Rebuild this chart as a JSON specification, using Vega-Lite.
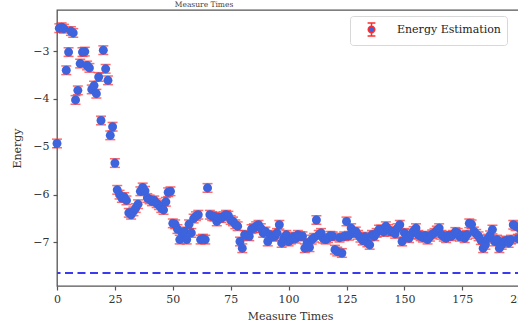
{
  "$schema": "https://vega.github.io/schema/vega-lite/v6.json",
  "width": 466,
  "height": 276,
  "autosize": {"type": "none"},
  "padding": {"left": 57, "top": 10, "right": -5, "bottom": 37},
  "background": "white",
  "title": {"text": "Measure Times", "anchor": "start", "dx": 163, "offset": 2, "fontSize": 7.5, "font": "DejaVu Serif", "fontWeight": "normal", "color": "#444"},
  "config": {
    "font": "DejaVu Serif",
    "view": {"stroke": "#555", "strokeWidth": 1.3},
    "axis": {"labelFont": "DejaVu Serif", "titleFont": "DejaVu Serif", "labelFontSize": 11, "titleFontSize": 11, "labelColor": "#333", "titleColor": "#333", "titleFontWeight": "normal", "grid": false, "domain": false, "tickColor": "#555", "tickSize": 4, "tickWidth": 1.2}
  },
  "datasets": {
    "est": [
      {"t":0,"e":-4.93,"s":0.09},{"t":1,"e":-2.52,"s":0.09},{"t":2,"e":-2.5,"s":0.09},{"t":3,"e":-2.53,"s":0.09},{"t":4,"e":-3.4,"s":0.09},{"t":5,"e":-3.02,"s":0.09},{"t":6,"e":-2.58,"s":0.09},{"t":7,"e":-2.62,"s":0.09},{"t":8,"e":-4.02,"s":0.09},{"t":9,"e":-3.82,"s":0.09},
      {"t":10,"e":-3.26,"s":0.09},{"t":11,"e":-3.02,"s":0.09},{"t":12,"e":-3.01,"s":0.09},{"t":13,"e":-3.3,"s":0.09},{"t":14,"e":-3.35,"s":0.09},{"t":15,"e":-3.8,"s":0.09},{"t":16,"e":-3.72,"s":0.09},{"t":17,"e":-3.89,"s":0.09},{"t":18,"e":-3.54,"s":0.09},{"t":19,"e":-4.45,"s":0.09},
      {"t":20,"e":-2.98,"s":0.09},{"t":21,"e":-3.37,"s":0.09},{"t":22,"e":-3.61,"s":0.09},{"t":23,"e":-4.76,"s":0.09},{"t":24,"e":-4.58,"s":0.09},{"t":25,"e":-5.34,"s":0.09},{"t":26,"e":-5.9,"s":0.09},{"t":27,"e":-6.0,"s":0.09},{"t":28,"e":-6.07,"s":0.09},{"t":29,"e":-6.05,"s":0.09},
      {"t":30,"e":-6.12,"s":0.09},{"t":31,"e":-6.38,"s":0.09},{"t":32,"e":-6.42,"s":0.09},{"t":33,"e":-6.35,"s":0.09},{"t":34,"e":-6.28,"s":0.09},{"t":35,"e":-6.2,"s":0.09},{"t":36,"e":-5.93,"s":0.09},{"t":37,"e":-5.85,"s":0.09},{"t":38,"e":-5.92,"s":0.09},{"t":39,"e":-6.07,"s":0.09},
      {"t":40,"e":-6.1,"s":0.09},{"t":41,"e":-6.14,"s":0.09},{"t":42,"e":-6.12,"s":0.09},{"t":43,"e":-6.18,"s":0.09},{"t":44,"e":-6.22,"s":0.09},{"t":45,"e":-6.28,"s":0.09},{"t":46,"e":-6.32,"s":0.09},{"t":47,"e":-6.15,"s":0.09},{"t":48,"e":-5.95,"s":0.09},{"t":49,"e":-5.93,"s":0.09},
      {"t":50,"e":-6.6,"s":0.09},{"t":51,"e":-6.62,"s":0.09},{"t":52,"e":-6.72,"s":0.09},{"t":53,"e":-6.94,"s":0.09},{"t":54,"e":-6.8,"s":0.09},{"t":55,"e":-6.77,"s":0.09},{"t":56,"e":-6.94,"s":0.09},{"t":57,"e":-6.62,"s":0.09},{"t":58,"e":-6.8,"s":0.09},{"t":59,"e":-6.5,"s":0.09},
      {"t":60,"e":-6.45,"s":0.09},{"t":61,"e":-6.42,"s":0.09},{"t":62,"e":-6.94,"s":0.09},{"t":63,"e":-6.92,"s":0.09},{"t":64,"e":-6.94,"s":0.09},{"t":65,"e":-5.86,"s":0.09},{"t":66,"e":-6.42,"s":0.09},{"t":67,"e":-6.45,"s":0.09},{"t":68,"e":-6.46,"s":0.09},{"t":69,"e":-6.56,"s":0.09},
      {"t":70,"e":-6.48,"s":0.09},{"t":71,"e":-6.49,"s":0.09},{"t":72,"e":-6.45,"s":0.09},{"t":73,"e":-6.42,"s":0.09},{"t":74,"e":-6.44,"s":0.09},{"t":75,"e":-6.53,"s":0.09},{"t":76,"e":-6.56,"s":0.09},{"t":77,"e":-6.62,"s":0.09},{"t":78,"e":-6.66,"s":0.09},{"t":79,"e":-6.98,"s":0.09},
      {"t":80,"e":-7.12,"s":0.09},{"t":81,"e":-6.84,"s":0.09},{"t":82,"e":-6.86,"s":0.09},{"t":83,"e":-6.87,"s":0.09},{"t":84,"e":-6.72,"s":0.09},{"t":85,"e":-6.7,"s":0.09},{"t":86,"e":-6.66,"s":0.09},{"t":87,"e":-6.63,"s":0.09},{"t":88,"e":-6.7,"s":0.09},{"t":89,"e":-6.8,"s":0.09},
      {"t":90,"e":-6.77,"s":0.09},{"t":91,"e":-6.98,"s":0.09},{"t":92,"e":-6.84,"s":0.09},{"t":93,"e":-6.88,"s":0.09},{"t":94,"e":-6.87,"s":0.09},{"t":95,"e":-6.8,"s":0.09},{"t":96,"e":-6.63,"s":0.09},{"t":97,"e":-7.01,"s":0.09},{"t":98,"e":-6.9,"s":0.09},{"t":99,"e":-6.84,"s":0.09},
      {"t":100,"e":-6.98,"s":0.09},{"t":101,"e":-6.94,"s":0.09},{"t":102,"e":-6.88,"s":0.09},{"t":103,"e":-6.92,"s":0.09},{"t":104,"e":-6.84,"s":0.09},{"t":105,"e":-6.87,"s":0.09},{"t":106,"e":-6.87,"s":0.09},{"t":107,"e":-7.12,"s":0.09},{"t":108,"e":-7.01,"s":0.09},{"t":109,"e":-7.1,"s":0.09},
      {"t":110,"e":-6.94,"s":0.09},{"t":111,"e":-6.9,"s":0.09},{"t":112,"e":-6.53,"s":0.09},{"t":113,"e":-6.84,"s":0.09},{"t":114,"e":-6.8,"s":0.09},{"t":115,"e":-6.92,"s":0.09},{"t":116,"e":-6.94,"s":0.09},{"t":117,"e":-6.91,"s":0.09},{"t":118,"e":-6.86,"s":0.09},{"t":119,"e":-6.87,"s":0.09},
      {"t":120,"e":-7.15,"s":0.09},{"t":121,"e":-7.19,"s":0.09},{"t":122,"e":-6.9,"s":0.09},{"t":123,"e":-7.22,"s":0.09},{"t":124,"e":-6.87,"s":0.09},{"t":125,"e":-6.56,"s":0.09},{"t":126,"e":-6.86,"s":0.09},{"t":127,"e":-6.7,"s":0.09},{"t":128,"e":-6.8,"s":0.09},{"t":129,"e":-6.77,"s":0.09},
      {"t":130,"e":-6.84,"s":0.09},{"t":131,"e":-6.9,"s":0.09},{"t":132,"e":-6.96,"s":0.09},{"t":133,"e":-6.88,"s":0.09},{"t":134,"e":-7.0,"s":0.09},{"t":135,"e":-7.05,"s":0.09},{"t":136,"e":-6.84,"s":0.09},{"t":137,"e":-6.87,"s":0.09},{"t":138,"e":-6.8,"s":0.09},{"t":139,"e":-6.73,"s":0.09},
      {"t":140,"e":-6.73,"s":0.09},{"t":141,"e":-6.78,"s":0.09},{"t":142,"e":-6.66,"s":0.09},{"t":143,"e":-6.72,"s":0.09},{"t":144,"e":-6.77,"s":0.09},{"t":145,"e":-6.77,"s":0.09},{"t":146,"e":-6.82,"s":0.09},{"t":147,"e":-6.7,"s":0.09},{"t":148,"e":-6.63,"s":0.09},{"t":149,"e":-6.98,"s":0.09},
      {"t":150,"e":-6.8,"s":0.09},{"t":151,"e":-6.88,"s":0.09},{"t":152,"e":-6.91,"s":0.09},{"t":153,"e":-6.82,"s":0.09},{"t":154,"e":-6.76,"s":0.09},{"t":155,"e":-6.7,"s":0.09},{"t":156,"e":-6.84,"s":0.09},{"t":157,"e":-6.87,"s":0.09},{"t":158,"e":-6.9,"s":0.09},{"t":159,"e":-6.86,"s":0.09},
      {"t":160,"e":-6.94,"s":0.09},{"t":161,"e":-6.88,"s":0.09},{"t":162,"e":-6.83,"s":0.09},{"t":163,"e":-6.8,"s":0.09},{"t":164,"e":-6.75,"s":0.09},{"t":165,"e":-6.7,"s":0.09},{"t":166,"e":-6.84,"s":0.09},{"t":167,"e":-6.88,"s":0.09},{"t":168,"e":-6.91,"s":0.09},{"t":169,"e":-6.86,"s":0.09},
      {"t":170,"e":-6.87,"s":0.09},{"t":171,"e":-6.84,"s":0.09},{"t":172,"e":-6.78,"s":0.09},{"t":173,"e":-6.8,"s":0.09},{"t":174,"e":-6.88,"s":0.09},{"t":175,"e":-6.86,"s":0.09},{"t":176,"e":-6.91,"s":0.09},{"t":177,"e":-6.84,"s":0.09},{"t":178,"e":-6.6,"s":0.09},{"t":179,"e":-6.62,"s":0.09},
      {"t":180,"e":-6.77,"s":0.09},{"t":181,"e":-6.82,"s":0.09},{"t":182,"e":-6.87,"s":0.09},{"t":183,"e":-6.95,"s":0.09},{"t":184,"e":-7.12,"s":0.09},{"t":185,"e":-7.05,"s":0.09},{"t":186,"e":-6.92,"s":0.09},{"t":187,"e":-6.85,"s":0.09},{"t":188,"e":-6.73,"s":0.09},{"t":189,"e":-6.98,"s":0.09},
      {"t":190,"e":-6.94,"s":0.09},{"t":191,"e":-7.12,"s":0.09},{"t":192,"e":-7.05,"s":0.09},{"t":193,"e":-6.98,"s":0.09},{"t":194,"e":-6.96,"s":0.09},{"t":195,"e":-7.01,"s":0.09},{"t":196,"e":-6.94,"s":0.09},{"t":197,"e":-6.63,"s":0.09},{"t":198,"e":-6.66,"s":0.09},{"t":199,"e":-6.92,"s":0.09},
      {"t":200,"e":-6.72,"s":0.09},{"t":201,"e":-6.8,"s":0.09}
    ]
  },
  "layer": [
    {
      "data": {"values": [{"ref": -7.64}]},
      "mark": {"type": "rule", "color": "#3a3aee", "strokeWidth": 2, "strokeDash": [8, 4.5]},
      "encoding": {
        "y": {"field": "ref", "type": "quantitative", "title": "Energy", "scale": {"domain": [-7.91, -2.14], "nice": false, "zero": false}}
      }
    },
    {
      "data": {"name": "est"},
      "mark": {"type": "errorbar", "color": "#ff2b2b", "thickness": 1.5, "ticks": {"color": "#ff2b2b", "size": 10, "thickness": 1.5}},
      "encoding": {
        "x": {"field": "t", "type": "quantitative", "title": "Measure Times"},
        "y": {"field": "e", "type": "quantitative", "title": "Energy"},
        "yError": {"field": "s"}
      }
    },
    {
      "data": {"name": "est"},
      "mark": {"type": "circle", "size": 80, "opacity": 1},
      "encoding": {
        "x": {
          "field": "t", "type": "quantitative", "title": "Measure Times",
          "scale": {"domain": [0, 201.2], "nice": false, "zero": false},
          "axis": {"values": [0, 25, 50, 75, 100, 125, 150, 175, 200], "format": "d", "labelPadding": 3, "titlePadding": 6, "labelFlush": false, "labelOverlap": false, "labelBound": false}
        },
        "y": {
          "field": "e", "type": "quantitative", "title": "Energy",
          "scale": {"domain": [-7.91, -2.14], "nice": false, "zero": false},
          "axis": {"values": [-7, -6, -5, -4, -3], "format": "d", "labelPadding": 4, "titlePadding": 10}
        },
        "color": {
          "datum": "Energy Estimation",
          "scale": {"range": ["#3d63dd"]},
          "legend": {
            "title": null,
            "orient": "none",
            "legendX": 293,
            "legendY": 6,
            "fillColor": "white",
            "strokeColor": "#d8d8d8",
            "cornerRadius": 3,
            "padding": 6,
            "symbolType": "M-0.6,-1H0.6M0,-1V-0.5M0,0.5V1M-0.6,1H0.6M0.5,0A0.5,0.5 0 1,1 -0.5,0A0.5,0.5 0 1,1 0.5,0Z",
            "symbolSize": 169,
            "symbolFillColor": "#3d63dd",
            "symbolStrokeColor": "#ff2b2b",
            "symbolStrokeWidth": 1.5,
            "symbolOffset": 8,
            "labelOffset": 18,
            "labelFont": "DejaVu Serif",
            "labelFontSize": 11,
            "labelColor": "#222",
            "labelLimit": 200
          }
        }
      }
    }
  ]
}
